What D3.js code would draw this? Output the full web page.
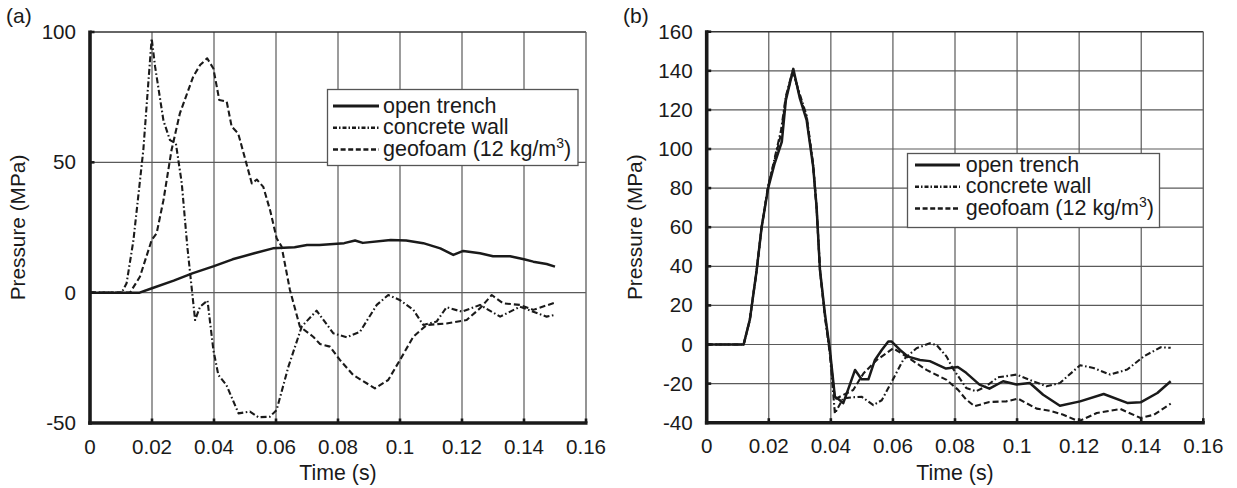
<!DOCTYPE html>
<html>
<head>
<meta charset="utf-8">
<script src="https://cdn.jsdelivr.net/npm/d3@7"></script>
<style>
  html, body { margin: 0; padding: 0; background: #fff; }
  svg { display: block; font-family: "Liberation Sans", Arial, sans-serif; }
</style>
</head>
<body>
<svg id="chart" width="1237" height="488"></svg>
<script>
// ---------------- data ----------------
const xTicks = [0, 0.02, 0.04, 0.06, 0.08, 0.1, 0.12, 0.14, 0.16];
const xTickLabels = ["0", "0.02", "0.04", "0.06", "0.08", "0.1", "0.12", "0.14", "0.16"];
const aYTicks = [-50, 0, 50, 100];
const bYTicks = [-40, -20, 0, 20, 40, 60, 80, 100, 120, 140, 160];
const seriesNames = ["open trench", "concrete wall", "geofoam (12 kg/m", ")"];

// panel (a): [time (s), pressure (MPa)]
const aOpenTrench = [[0,0],[0.016,0],[0.02,1.7],[0.027,4.6],[0.033,7.4],[0.04,10.2],[0.046,12.8],[0.053,15.1],[0.059,17],[0.066,17.4],[0.07,18.3],[0.074,18.3],[0.082,19],[0.0855,20],[0.088,19.1],[0.097,20.2],[0.102,20],[0.1075,19],[0.113,17],[0.1172,14.5],[0.1204,16],[0.1258,15.1],[0.13,14],[0.1355,14],[0.14,12.8],[0.143,11.9],[0.1473,11],[0.15,10]];
const aConcreteWall = [[0,0],[0.0102,0],[0.0118,3.6],[0.014,20],[0.0172,54.7],[0.0188,80.3],[0.0199,97.5],[0.021,86.7],[0.0237,66],[0.0258,58.5],[0.0277,57.3],[0.0296,42],[0.0314,17.6],[0.0339,-10.5],[0.0355,-5.4],[0.0379,-3],[0.0398,-22],[0.0414,-31.6],[0.044,-35.4],[0.0479,-46.3],[0.0516,-45.6],[0.0543,-47.8],[0.058,-47.6],[0.0602,-45],[0.064,-28.4],[0.0683,-13],[0.0731,-6.9],[0.0785,-15.6],[0.0828,-17.1],[0.0871,-15],[0.0925,-4.7],[0.0962,-0.9],[0.0999,-2.8],[0.1043,-6.6],[0.1075,-12.4],[0.1118,-11.1],[0.115,-5.6],[0.12,-7.3],[0.1258,-4.7],[0.1323,-9.2],[0.1387,-5.4],[0.1473,-9.2],[0.15,-8.5]];
const aGeofoam = [[0,0],[0.0129,0],[0.0161,6.1],[0.0199,20.2],[0.0215,22.8],[0.0237,35.5],[0.0263,54.7],[0.029,68.8],[0.0333,82.9],[0.0355,87.3],[0.0378,89.9],[0.0398,86],[0.0417,73.9],[0.0441,73.3],[0.0457,63.7],[0.0478,61.1],[0.0522,41.9],[0.0538,43.4],[0.0559,40.6],[0.0581,31.6],[0.0602,20.9],[0.0618,17.7],[0.0645,1],[0.0677,-13],[0.072,-16.9],[0.0742,-19.7],[0.0774,-20.7],[0.0806,-25.8],[0.0849,-31.6],[0.0919,-36.7],[0.0962,-33.5],[0.1,-25.8],[0.1043,-16.9],[0.1086,-12.4],[0.115,-11.8],[0.1215,-10.5],[0.1258,-6],[0.1296,-0.9],[0.1333,-4.1],[0.1387,-4.7],[0.143,-6.6],[0.15,-3.8]];

// panel (b)
const bOpenTrench = [[0,0],[0.0119,0],[0.0139,12.7],[0.0161,38],[0.0177,60],[0.0198,80],[0.0219,92.7],[0.0242,103.7],[0.0255,125],[0.0279,141],[0.03,126],[0.0322,114.8],[0.0343,91],[0.0354,70.5],[0.0365,38],[0.0381,15.6],[0.0397,-2.9],[0.0413,-26.7],[0.0425,-28],[0.044,-30],[0.0478,-13],[0.0499,-17.8],[0.0521,-17.8],[0.0542,-7.9],[0.0564,-2.8],[0.0585,1.5],[0.0596,1.5],[0.0623,-2.8],[0.0649,-6.2],[0.0687,-7.9],[0.0719,-8.5],[0.0757,-11.3],[0.0771,-12.3],[0.0809,-11.5],[0.0836,-14.5],[0.0879,-20.5],[0.0911,-22.6],[0.0955,-18.8],[0.0998,-20.5],[0.1041,-19.7],[0.1084,-25.7],[0.1138,-31.3],[0.1203,-29.1],[0.1279,-25.3],[0.1355,-29.9],[0.1398,-29.6],[0.1452,-24.8],[0.1495,-18.8]];
const bConcreteWall = [[0,0],[0.0119,0],[0.0139,12.7],[0.0161,38],[0.0177,60],[0.0198,81],[0.022,96],[0.024,110],[0.0255,127],[0.0277,140],[0.03,128],[0.0322,117],[0.0343,92],[0.0354,70],[0.0365,38],[0.0381,14],[0.0397,-5],[0.0413,-35.2],[0.044,-27.5],[0.047,-27],[0.0499,-26.7],[0.0537,-31],[0.0564,-28.5],[0.0596,-19.1],[0.0633,-7.9],[0.0676,-1.9],[0.0719,0.6],[0.0741,-0.3],[0.0773,-6.2],[0.0792,-12],[0.0836,-22.2],[0.0868,-23.9],[0.09,-21.4],[0.0938,-16.8],[0.0998,-15.4],[0.1052,-18.8],[0.1095,-21.4],[0.1138,-19.7],[0.1203,-10.6],[0.1246,-12],[0.13,-15.4],[0.1355,-12.8],[0.1409,-6],[0.1463,-1.4],[0.1495,-1.7]];
const bGeofoam = [[0,0],[0.0119,0],[0.0139,12.7],[0.0161,38],[0.0177,60],[0.0198,81],[0.022,95],[0.024,108],[0.0255,126],[0.0278,140],[0.03,127],[0.0322,116],[0.0343,91.5],[0.0354,70],[0.0365,38],[0.0381,15],[0.0397,-4],[0.0413,-28],[0.044,-25.8],[0.0472,-23.3],[0.0505,-14.8],[0.0548,-7.9],[0.0601,-1.9],[0.0644,-6.2],[0.0708,-13],[0.0773,-18.1],[0.081,-23.2],[0.0835,-28],[0.0863,-31.6],[0.0911,-29.4],[0.0965,-29.1],[0.1003,-27.7],[0.1063,-32.8],[0.1106,-33.9],[0.1149,-35.9],[0.1198,-39.3],[0.1257,-35],[0.1333,-33],[0.1398,-37.6],[0.1441,-35.9],[0.1495,-30.3]];

// ---------------- drawing ----------------
const svg = d3.select("#chart");
const INK = "#1a1a1a";
const GRID = "#5a5a5a";
const styles = [
  { width: 2.5, dash: null },
  { width: 2.1, dash: "6,2.5,1.6,2.5" },
  { width: 2.1, dash: "6,3" }
];

function drawPanel(cfg) {
  const x = d3.scaleLinear().domain([0, 0.16]).range([cfg.left, cfg.right]);
  const y = d3.scaleLinear().domain(cfg.yDomain).range([cfg.bottom, cfg.top]);
  const g = svg.append("g");

  // grid
  g.selectAll(".vg").data(xTicks.slice(1, -1)).join("line")
    .attr("x1", d => x(d)).attr("x2", d => x(d))
    .attr("y1", cfg.top).attr("y2", cfg.bottom)
    .attr("stroke", GRID).attr("stroke-width", 1.2);
  g.selectAll(".hg").data(cfg.yTicks.slice(1, -1)).join("line")
    .attr("x1", cfg.left).attr("x2", cfg.right)
    .attr("y1", d => y(d)).attr("y2", d => y(d))
    .attr("stroke", GRID).attr("stroke-width", 1.2);

  // frame: thin top/right
  g.append("line").attr("x1", cfg.left).attr("x2", cfg.right).attr("y1", cfg.top).attr("y2", cfg.top)
    .attr("stroke", "#333").attr("stroke-width", 1.4);
  g.append("line").attr("x1", cfg.right).attr("x2", cfg.right).attr("y1", cfg.top).attr("y2", cfg.bottom)
    .attr("stroke", "#666").attr("stroke-width", 1.4);

  // series
  const line = d3.line().x(d => x(d[0])).y(d => y(d[1]));
  cfg.series.forEach((s, i) => {
    g.append("path").datum(s).attr("d", line)
      .attr("fill", "none").attr("stroke", INK)
      .attr("stroke-width", styles[i].width)
      .attr("stroke-dasharray", styles[i].dash)
      .attr("stroke-linejoin", "round");
  });

  // thick left & bottom axes
  g.append("line").attr("x1", cfg.left).attr("x2", cfg.left).attr("y1", cfg.top - 1.5).attr("y2", cfg.bottom + 1.7)
    .attr("stroke", INK).attr("stroke-width", 3.6);
  g.append("line").attr("x1", cfg.left - 1.8).attr("x2", cfg.right + 1.5).attr("y1", cfg.bottom).attr("y2", cfg.bottom)
    .attr("stroke", INK).attr("stroke-width", 3.4);

  // inward tick stubs
  g.selectAll(".xt").data(xTicks.slice(1)).join("line")
    .attr("x1", d => x(d)).attr("x2", d => x(d))
    .attr("y1", cfg.bottom).attr("y2", cfg.bottom - 4.5)
    .attr("stroke", INK).attr("stroke-width", 2.6);
  g.selectAll(".yt").data(cfg.yTicks.slice(1)).join("line")
    .attr("x1", cfg.left).attr("x2", cfg.left + 4.5)
    .attr("y1", d => y(d)).attr("y2", d => y(d))
    .attr("stroke", INK).attr("stroke-width", 2.6);

  // tick labels
  g.selectAll(".xl").data(xTicks).join("text")
    .attr("x", d => x(d)).attr("y", cfg.bottom + 30.5)
    .attr("text-anchor", "middle").attr("font-size", 20.6).attr("fill", INK)
    .text((d, i) => xTickLabels[i]);
  g.selectAll(".yl").data(cfg.yTicks).join("text")
    .attr("x", cfg.left - 14).attr("y", d => y(d)).attr("dy", "0.34em")
    .attr("text-anchor", "end").attr("font-size", 20.6).attr("fill", INK)
    .text(d => String(d));

  // axis titles
  g.append("text").attr("x", (cfg.left + cfg.right) / 2).attr("y", 480)
    .attr("text-anchor", "middle").attr("font-size", 21.3).attr("fill", INK).text("Time (s)");
  g.append("text")
    .attr("transform", `translate(${cfg.ytitleX},${(cfg.top + cfg.bottom) / 2}) rotate(-90)`)
    .attr("text-anchor", "middle").attr("font-size", 20.8).attr("fill", INK).text("Pressure (MPa)");

  // panel label
  g.append("text").attr("x", cfg.labelX).attr("y", 23).attr("font-size", 21).attr("fill", INK).text(cfg.label);

  // legend
  const L = cfg.legend;
  g.append("rect").attr("x", L.x).attr("y", L.y).attr("width", L.w).attr("height", L.h)
    .attr("fill", "#fff").attr("stroke", "#555").attr("stroke-width", 1.3);
  const lg = g.append("g");
  [0, 1, 2].forEach(i => {
    const ly = L.lineY0 + i * L.dy;
    lg.append("line").attr("x1", L.lx1).attr("x2", L.lx2).attr("y1", ly).attr("y2", ly)
      .attr("stroke", INK).attr("stroke-width", styles[i].width + 0.4)
      .attr("stroke-dasharray", i === 1 ? "4,2,1.5,2" : (i === 2 ? "5,2.6" : null));
    const t = lg.append("text").attr("x", L.tx).attr("y", L.textY0 + i * L.dy)
      .attr("font-size", 21.5).attr("fill", INK);
    if (i < 2) t.text(seriesNames[i]);
    else {
      t.append("tspan").text(seriesNames[2]);
      t.append("tspan").attr("font-size", 14).attr("dy", -8).text("3");
      t.append("tspan").attr("dy", 8).text(seriesNames[3]);
    }
  });
}

drawPanel({
  left: 90, right: 586, top: 32, bottom: 423,
  yDomain: [-50, 100], yTicks: aYTicks,
  series: [aOpenTrench, aConcreteWall, aGeofoam],
  ytitleX: 25, label: "(a)", labelX: 6,
  legend: { x: 327.5, y: 89.5, w: 250.5, h: 76, lx1: 333, lx2: 379, tx: 383,
            lineY0: 106, textY0: 112.5, dy: 21.8 }
});
drawPanel({
  left: 706.7, right: 1203.3, top: 31.7, bottom: 422.7,
  yDomain: [-40, 160], yTicks: bYTicks,
  series: [bOpenTrench, bConcreteWall, bGeofoam],
  ytitleX: 642, label: "(b)", labelX: 623,
  legend: { x: 907.5, y: 153.5, w: 252, h: 74, lx1: 915, lx2: 960, tx: 965.7,
            lineY0: 165, textY0: 171.5, dy: 21.8 }
});
</script>
</body>
</html>
